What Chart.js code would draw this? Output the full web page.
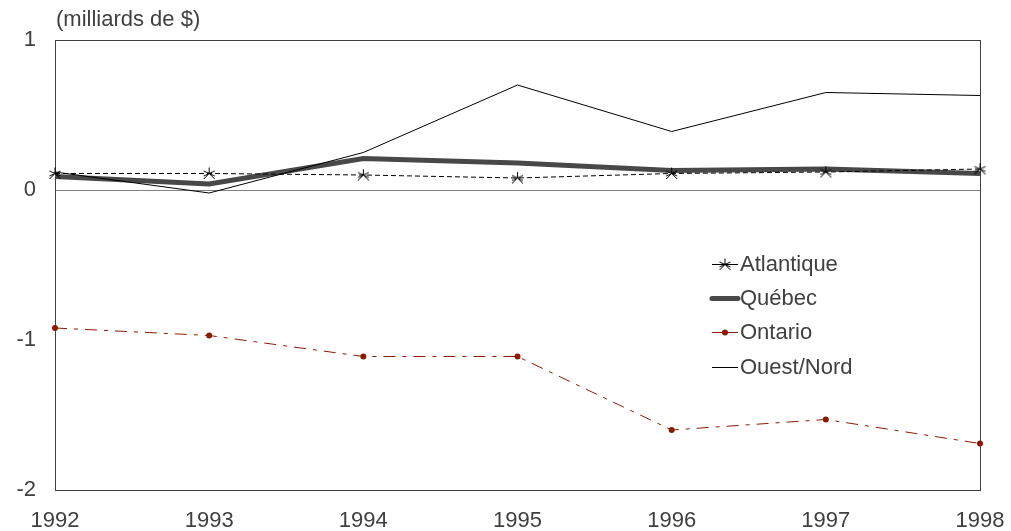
<!DOCTYPE html>
<html>
<head>
<meta charset="utf-8">
<script src="https://cdn.jsdelivr.net/npm/chart.js@4/dist/chart.umd.min.js"></script>
<style>
  html, body { margin: 0; padding: 0; background: #fff; }
  #wrap { width: 1011px; height: 531px; position: relative; }
</style>
</head>
<body>
<div id="wrap"><canvas id="myChart" width="1011" height="531"></canvas></div>
<script>

// data (milliards de $)
var years = ["1992", "1993", "1994", "1995", "1996", "1997", "1998"];
var atlantique = [0.11, 0.11, 0.10, 0.08, 0.11, 0.12, 0.14];
var quebec = [0.09, 0.04, 0.21, 0.18, 0.13, 0.14, 0.11];
var ontario = [-0.92, -0.97, -1.11, -1.11, -1.60, -1.53, -1.69];
var ouestNord = [0.12, -0.02, 0.25, 0.70, 0.39, 0.65, 0.63];
var seriesNames = ["Atlantique", "Québec", "Ontario", "Ouest/Nord"];
var yTicks = [1, 0, -1, -2];

var textColor = "#404040";
var fontFamily = "'Liberation Sans', Arial, sans-serif";
var ontarioColor = "#8B1A00";

//star marker like the excel one
function makeStar(){
	var c = document.createElement("canvas");
	c.width = 13;
	c.height = 13;
	var g = c.getContext("2d");
	g.strokeStyle = "#000";
	g.lineWidth = 1;
	g.beginPath();
	g.moveTo(6.5, 0.5); g.lineTo(6.5, 6.5);
	g.moveTo(1, 12); g.lineTo(6.5, 6.5); g.lineTo(12, 12);
	g.moveTo(1, 4); g.lineTo(12, 9);
	g.moveTo(12, 4); g.lineTo(1, 9);
	g.stroke();
	return c;
}
var star = makeStar();

//title and legend drawn inside the chart
var extras = {
	id: "extras",
	afterDraw: function(chart){
		var ctx = chart.ctx;
		ctx.save();
		ctx.font = "22px " + fontFamily;
		ctx.fillStyle = textColor;
		ctx.textBaseline = "middle";
		ctx.textAlign = "left";
		ctx.fillText("(milliards de $)", 56, 20);

		var rows = [264, 298, 332, 367];
		var x0 = 712, x1 = 738;
		for(var i = 0; i < rows.length; i++){
			var y = rows[i];
			ctx.beginPath();
			if(i == 0){
				ctx.strokeStyle = "#000"; ctx.lineWidth = 1;
			} else if(i == 1){
				ctx.strokeStyle = "#484848"; ctx.lineWidth = 5; ctx.lineCap = "round";
			} else if(i == 2){
				ctx.strokeStyle = ontarioColor; ctx.lineWidth = 1; ctx.lineCap = "butt";
			} else {
				ctx.strokeStyle = "#000"; ctx.lineWidth = 1; ctx.lineCap = "butt";
			}
			ctx.moveTo(x0, y + 0.5);
			ctx.lineTo(x1, y + 0.5);
			ctx.stroke();
			if(i == 0){
				ctx.drawImage(star, 725 - 6.5, y - 6);
			}
			if(i == 2){
				ctx.beginPath();
				ctx.fillStyle = ontarioColor;
				ctx.arc(725, y + 0.5, 3, 0, Math.PI * 2);
				ctx.fill();
			}
			ctx.fillStyle = textColor;
			ctx.fillText(seriesNames[i], 740, y + 1);
		}
		ctx.restore();
	}
};

var ctx = document.getElementById("myChart");
var myChart = new Chart(ctx, {
	type: "line",
	data: {
		labels: years,
		datasets: [{
			label: seriesNames[0],
			data: atlantique,
			borderColor: "#000",
			borderWidth: 1,
			borderDash: [5, 3],
			pointStyle: star,
			pointRadius: 6,
			order: 2
		}, {
			label: seriesNames[1],
			data: quebec,
			borderColor: "#484848",
			borderWidth: 5,
			pointRadius: 0,
			order: 4
		}, {
			label: seriesNames[2],
			data: ontario,
			borderColor: ontarioColor,
			backgroundColor: ontarioColor,
			borderWidth: 1,
			borderDash: [12, 7, 4, 7],
			pointRadius: 3,
			pointBorderWidth: 0,
			order: 1
		}, {
			label: seriesNames[3],
			data: ouestNord,
			borderColor: "#000",
			borderWidth: 1,
			pointRadius: 0,
			order: 3
		}]
	},
	options: {
		responsive: false,
		animation: false,
		devicePixelRatio: 1,
		layout: { padding: { top: 40, right: 31, left: 0, bottom: 0 } },
		plugins: {
			legend: { display: false },
			tooltip: { enabled: false }
		},
		elements: { line: { tension: 0 } },
		scales: {
			x: {
				offset: false,
				grid: {
					drawTicks: false,
					color: function(c){ return c.index == years.length - 1 ? "#404040" : "rgba(0,0,0,0)"; }
				},
				border: { color: "#404040", width: 1 },
				ticks: {
					padding: 18,
					color: textColor,
					font: { family: fontFamily, size: 22 },
					maxRotation: 0,
					autoSkip: false
				},
				afterFit: function(axis){
					axis.height = 41;
					axis.paddingLeft = 0;
					axis.paddingRight = 0;
				}
			},
			y: {
				min: -2,
				max: 1,
				afterBuildTicks: function(axis){
					axis.ticks = yTicks.map(function(v){ return { value: v }; });
				},
				grid: {
					drawTicks: false,
					color: function(c){
						if(c.tick.value == 0) return "#808080";
						if(c.tick.value == 1) return "#404040";
						return "rgba(0,0,0,0)";
					}
				},
				border: { color: "#404040", width: 1 },
				ticks: {
					padding: 19,
					color: textColor,
					font: { family: fontFamily, size: 22 }
				},
				afterFit: function(axis){
					axis.width = 55;
					axis.paddingTop = 0;
					axis.paddingBottom = 0;
				}
			}
		}
	},
	plugins: [extras]
});
</script>
</body>
</html>
